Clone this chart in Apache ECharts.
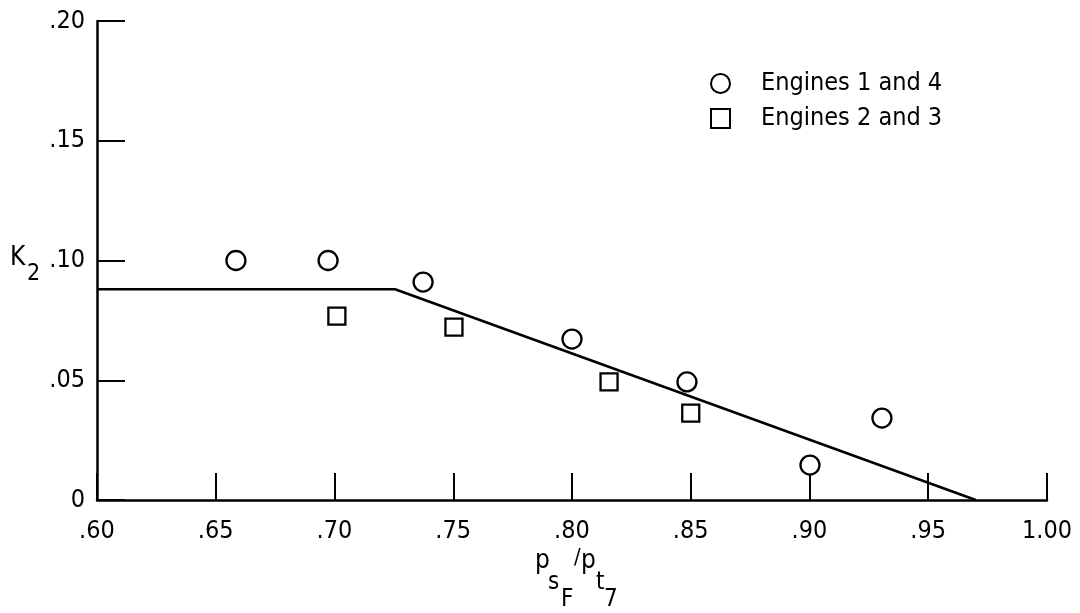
<!DOCTYPE html>
<html>
<head>
<meta charset="utf-8">
<script src="https://cdn.jsdelivr.net/npm/echarts@6/dist/echarts.min.js"></script>
<style>
html,body{margin:0;padding:0;background:#fff;}
#chart{width:1080px;height:613px;}
</style>
</head>
<body>
<div id="chart"></div>
<script>
// ---- data ----
const seriesNames = ['Engines 1 and 4', 'Engines 2 and 3'];
const engines14 = [
  [0.6585, 0.100], [0.6973, 0.100], [0.7373, 0.091], [0.800, 0.0672],
  [0.8484, 0.0493], [0.9002, 0.0146], [0.9305, 0.0342]
];
const engines23 = [
  [0.701, 0.0768], [0.7503, 0.0722], [0.8156, 0.0493], [0.850, 0.0363],
  [0.9335, -0.0017]
];
const fairingLine = [[0.60, 0.088], [0.7255, 0.088], [0.970, 0.0]];
const xTicks = [0.60, 0.65, 0.70, 0.75, 0.80, 0.85, 0.90, 0.95, 1.00];
const yTicks = [0, 0.05, 0.10, 0.15, 0.20];

const FONT = '"DejaVu Sans Condensed", "Liberation Sans", sans-serif';
const fmt = v => {
  if (Math.abs(v) < 1e-9) return '0';
  const s = v.toFixed(2);
  return s.startsWith('0') ? s.slice(1) : s;
};

const chart = echarts.init(document.getElementById('chart'), null, {renderer: 'canvas'});
const txt = (t, x, y, size) => ({
  type: 'text', x: x, y: y,
  style: {text: t, font: size + 'px ' + FONT, fill: '#000', align: 'left', verticalAlign: 'middle'}
});

chart.setOption({
  backgroundColor: '#fff',
  animation: false,
  grid: {left: 97, right: 33, top: 21, bottom: 113, containLabel: false},
  legend: {
    orient: 'vertical', left: 705, top: 66, itemWidth: 19, itemHeight: 19, itemGap: 10,
    data: [{name: seriesNames[0], icon: 'circle'}, {name: seriesNames[1], icon: 'rect'}],
    textStyle: {fontFamily: FONT, fontSize: 25, color: '#000', lineHeight: 25, padding: [0, 0, 0, 26]}
  },
  xAxis: {
    type: 'value', min: xTicks[0], max: xTicks[xTicks.length - 1], interval: 0.05,
    axisLine: {show: true, onZero: false, lineStyle: {color: '#000', width: 2.5}},
    axisTick: {show: true, inside: true, length: 27, lineStyle: {color: '#000', width: 2}},
    axisLabel: {margin: 19, fontFamily: FONT, fontSize: 25, color: '#000', formatter: fmt},
    splitLine: {show: false}
  },
  yAxis: {
    type: 'value', min: yTicks[0], max: yTicks[yTicks.length - 1], interval: 0.05,
    axisLine: {show: true, lineStyle: {color: '#000', width: 2.5}},
    axisTick: {show: true, inside: true, length: 28, lineStyle: {color: '#000', width: 2}},
    axisLabel: {margin: 12, fontFamily: FONT, fontSize: 25, color: '#000', formatter: fmt},
    splitLine: {show: false}
  },
  series: [
    {
      name: 'fit', type: 'line', data: fairingLine, symbol: 'none', silent: true,
      lineStyle: {color: '#000', width: 2.6}, z: 1
    },
    {
      name: seriesNames[0], type: 'scatter', data: engines14, symbol: 'circle', symbolSize: 19,
      itemStyle: {color: '#fff', borderColor: '#000', borderWidth: 2.3, opacity: 1}, z: 3
    },
    {
      name: seriesNames[1], type: 'scatter', data: engines23, symbol: 'rect', symbolSize: 17,
      itemStyle: {color: '#fff', borderColor: '#000', borderWidth: 2.3, opacity: 1}, z: 3
    }
  ],
  graphic: [
    // y-axis title K2
    txt('K', 10, 258, 26),
    txt('2', 27, 274, 23),
    // x-axis title p_sF / p_t7
    txt('p', 535, 561, 26),
    txt('s', 548, 583, 24),
    txt('F', 561, 600, 24),
    txt('/', 574, 558, 22),
    txt('p', 581, 561, 26),
    txt('t', 596, 583, 24),
    txt('7', 604, 600, 24)
  ]
});
</script>
</body>
</html>
